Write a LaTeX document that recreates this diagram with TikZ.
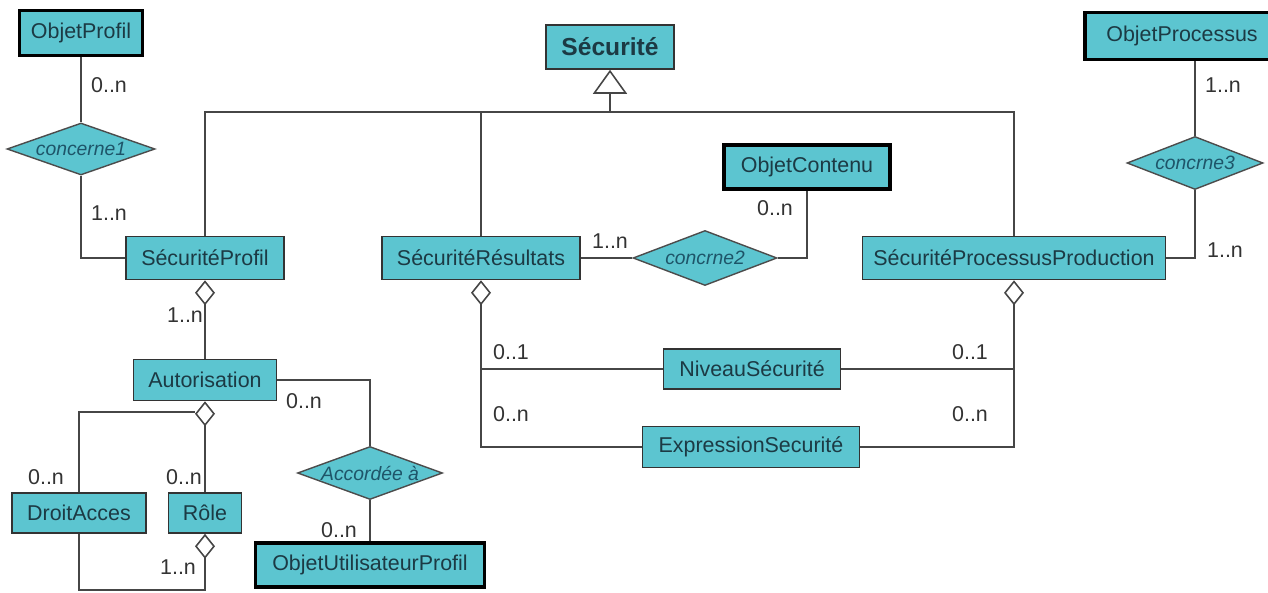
\documentclass[tikz,border=0pt]{standalone}
\usepackage{fontspec}
\setmainfont{Liberation Sans}
\usetikzlibrary{arrows.meta,shapes.geometric}
\definecolor{boxfill}{RGB}{92,197,208}
\definecolor{boxtext}{RGB}{28,58,68}
\definecolor{reltext}{RGB}{30,85,105}
\definecolor{linegray}{RGB}{70,70,70}
\def\rel#1{\makebox[0pt]{\itshape #1}}
\tikzset{
  classe/.style={draw=black!80, fill=boxfill, line width=0.9pt, text=boxtext, inner sep=0pt,
    font=\fontsize{12.2}{14}\selectfont},
  objet/.style={classe, draw=black, line width=2.2pt},
  relation/.style={diamond, draw=black!70, fill=boxfill, line width=0.8pt, inner sep=0pt,
    text=reltext, font=\fontsize{11}{13}\selectfont},
  mult/.style={text=black!80, inner sep=0pt, font=\fontsize{12.2}{14}\selectfont},
  lien/.style={draw=linegray, line width=0.9pt},
  agreg/.style={lien, {Diamond[open, length=5mm, width=4mm]}-},
  herit/.style={lien, -{Triangle[open, length=4.8mm, width=6.8mm]}}
}

\begin{document}
\begin{tikzpicture}[x=0.2mm, y=-0.2mm]
		\useasboundingbox (0,0) rectangle (1268,593);
		
		%%%%% classes %%%%%
		\node[classe, minimum width=25.6mm, minimum height=8.8mm, font=\fontsize{14}{16}\selectfont\bfseries] (Securite) at (610,47) {Sécurité};
		\node[classe, minimum width=31.6mm, minimum height=8.6mm] (SecuriteProfil) at (205,258) {SécuritéProfil};
		\node[classe, minimum width=39.6mm, minimum height=8.6mm] (SecuriteResultats) at (481,258) {SécuritéRésultats};
		\node[classe, minimum width=60.6mm, minimum height=8.6mm] (SecuriteProcessus) at (1014,258) {SécuritéProcessusProduction};
		\node[classe, minimum width=28.6mm, minimum height=8.2mm] (Autorisation) at (205,380) {Autorisation};
		\node[classe, minimum width=26.8mm, minimum height=8mm] (DroitAcces) at (79,513) {DroitAcces};
		\node[classe, minimum width=14.6mm, minimum height=8mm] (Role) at (205,513) {Rôle};
		\node[classe, minimum width=35.4mm, minimum height=8mm] (NiveauSecurite) at (752,369) {NiveauSécurité};
		\node[classe, minimum width=43.4mm, minimum height=8.2mm] (ExpressionSecurite) at (751,447) {ExpressionSecurité};
		
		%%%%% objets %%%%%
		\node[objet, minimum width=24.6mm, minimum height=9mm] (ObjetProfil) at (81,33) {ObjetProfil};
		\node[objet, minimum width=33.2mm, minimum height=8.8mm] (ObjetContenu) at (807,167) {ObjetContenu};
		\node[objet, minimum width=38.8mm, minimum height=9.4mm] (ObjetProcessus) at (1182,36) {ObjetProcessus};
		\node[objet, minimum width=45.8mm, minimum height=8.8mm] (ObjetUtilisateurProfil) at (370,565) {ObjetUtilisateurProfil};
		
		%%%%% relations %%%%%
		\node[relation, minimum width=29.6mm, minimum height=10.4mm] (concerne1) at (81,149) {\rel{concerne1}};
		\node[relation, minimum width=28.8mm, minimum height=11mm] (concrne2) at (705,258) {\rel{concrne2}};
		\node[relation, minimum width=27.2mm, minimum height=10.6mm] (concrne3) at (1195,163) {\rel{concrne3}};
		\node[relation, minimum width=29mm, minimum height=10.6mm] (accordee) at (370,473) {\rel{Accordée à}};
		
		%%%%% heritage %%%%%
		\coordinate (gen) at (610,112);
		\draw[herit] (gen) -- (Securite.south);
		\draw[lien] (SecuriteProfil.north) |- (gen) -| (SecuriteProcessus.north);
		\draw[lien] (SecuriteResultats.north) -- (SecuriteResultats.north |- gen);
		
		%%%%% associations %%%%%
		\draw[lien] (ObjetProfil.south) -- (concerne1.north);
		\draw[lien] (concerne1.south) |- (SecuriteProfil.west);
		\draw[lien] (SecuriteResultats.east) -- (concrne2.west);
		\draw[lien] (concrne2.east) -| (ObjetContenu.south);
		\draw[lien] (ObjetProcessus.south -| concrne3.north) -- (concrne3.north);
		\draw[lien] (concrne3.south) |- (SecuriteProcessus.east);
		\draw[lien] (Autorisation.east) -| (accordee.north);
		\draw[lien] (accordee.south) -- (ObjetUtilisateurProfil.north);
		
		%%%%% agregations %%%%%
		\draw[agreg] (SecuriteProfil.south) -- (Autorisation.north);
		\draw[agreg] (Autorisation.south) -- (Role.north);
		\coordinate (autGauche) at (195,412);
		\draw[lien] (autGauche) -| (DroitAcces.north);
		\coordinate (boucle) at (205,590);
		\draw[agreg] (Role.south) -- (boucle) -| (DroitAcces.south);
		\draw[agreg] (SecuriteResultats.south) |- (ExpressionSecurite.west);
		\draw[lien] (NiveauSecurite.west) -- (NiveauSecurite.west -| SecuriteResultats.south);
		\draw[agreg] (SecuriteProcessus.south) |- (ExpressionSecurite.east);
		\draw[lien] (NiveauSecurite.east) -- (NiveauSecurite.east -| SecuriteProcessus.south);
		
		%%%%% multiplicites %%%%%
		\node[mult] (m1) at (109,85) {0..n};
		\node[mult] (m2) at (109,213) {1..n};
		\node[mult] (m3) at (185,315) {1..n};
		\node[mult] (m4) at (304,401) {0..n};
		\node[mult] (m5) at (46,477) {0..n};
		\node[mult] (m6) at (184,477) {0..n};
		\node[mult] (m7) at (178,567) {1..n};
		\node[mult] (m8) at (339,530) {0..n};
		\node[mult] (m9) at (610,241) {1..n};
		\node[mult] (m10) at (775,208) {0..n};
		\node[mult] (m11) at (1223,85) {1..n};
		\node[mult] (m12) at (1225,250) {1..n};
		\node[mult] (m13) at (511,352) {0..1};
		\node[mult] (m14) at (511,414) {0..n};
		\node[mult] (m15) at (970,352) {0..1};
		\node[mult] (m16) at (970,414) {0..n};
	\end{tikzpicture}
\end{document}
